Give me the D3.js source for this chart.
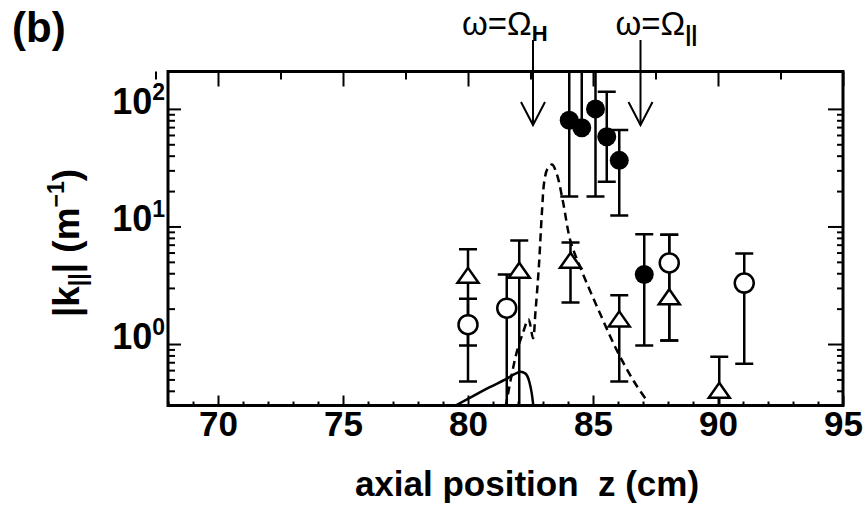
<!DOCTYPE html>
<html>
<head>
<meta charset="utf-8">
<script src="https://cdn.jsdelivr.net/npm/d3@7"></script>
<style>
  body { margin: 0; background: #fff; }
  text { font-family: "Liberation Sans", Arial, sans-serif; fill: #000; }
</style>
</head>
<body>
<svg id="chart" width="868" height="512"></svg>
<script>
const xDomain = [68, 95];
const yDomain = [0.3, 208];
const xMajor = [70, 75, 80, 85, 90, 95];
const yMajor = [1, 10, 100];
const yMajorExp = ['0', '1', '2'];

// [z (cm), |k| (1/m), lower end of error bar, upper end]
const filledPts = [
  [84.05, 80, 18, 400],
  [84.55, 69, 69, 400],
  [85.1, 100, 18, 400],
  [85.55, 58, 24, 140],
  [86.05, 36.5, 12.4, 66],
  [87.05, 3.9, 0.97, 8.6]
];
const openPts = [
  [80.0, 1.46, 0.97, 2.43],
  [81.55, 2.02, 0.2, 3.9],
  [88.05, 4.9, 1.07, 8.5],
  [91.05, 3.3, 0.68, 5.9]
];
const trianglePts = [
  [80.0, 3.8, 0.48, 6.4],
  [82.05, 4.2, 0.2, 7.6],
  [84.1, 5.1, 2.25, 7.3],
  [86.05, 1.62, 0.48, 2.6],
  [88.05, 2.5, 1.07, 8.5],
  [90.05, 0.4, 0.2, 0.78]
];

// dashed and solid model curves
const dashedZ = [81.5, 81.75, 81.96, 82.2, 82.42, 82.6, 82.7, 82.83, 82.96, 83.05, 83.18, 83.36, 83.55, 83.8, 84.1, 84.5, 85.3, 85.97, 86.64, 87.2];
const dashedK = [0.29, 0.55, 0.87, 1.25, 1.62, 1.12, 1.9, 4.4, 13.5, 24, 31, 33.6, 28, 16.2, 7.5, 4.44, 1.78, 0.87, 0.48, 0.32];
const solidZ = [79.5, 80.2, 80.87, 81.5, 81.9, 82.1, 82.3, 82.45, 82.55, 82.62];
const solidK = [0.3, 0.36, 0.43, 0.5, 0.56, 0.58, 0.56, 0.48, 0.38, 0.29];

const resonanceZ = [82.6, 86.9];
const resonanceSub = ['H', '||'];

const svg = d3.select('#chart');
const plotL = 168, plotR = 843, plotT = 71.5, plotB = 405.5;

const x = d3.scaleLinear().domain(xDomain).range([plotL, plotR]);
const y = d3.scaleLog().domain(yDomain).range([plotB, plotT]);

svg.append('defs').append('clipPath').attr('id', 'plot')
  .append('rect')
  .attr('x', plotL).attr('y', plotT)
  .attr('width', plotR - plotL).attr('height', plotB - plotT);

// ---- axes (ticks point inwards) ----
const xMinor = d3.range(68, 96).filter(d => d % 5 !== 0);
const xTopMinor = d3.range(67.5, 95, 5);
const yMinor = [0.3, 0.4, 0.5, 0.6, 0.7, 0.8, 0.9]
  .concat(d3.range(2, 10), d3.range(20, 100, 10));

function strip(g) {
  g.select('.domain').remove();
  g.selectAll('.tick line').attr('stroke', '#000').attr('stroke-width', 2);
}

svg.append('g').attr('transform', `translate(0,${plotB})`)
  .call(d3.axisBottom(x).tickValues(xMajor).tickSize(-10).tickPadding(6))
  .call(strip)
  .call(g => g.selectAll('.tick text')
    .style('font-size', '35px').style('font-weight', 'bold'));
svg.append('g').attr('transform', `translate(0,${plotB})`)
  .call(d3.axisBottom(x).tickValues(xMinor).tickSize(-4).tickFormat(''))
  .call(strip);

svg.append('g').attr('transform', `translate(0,${plotT})`)
  .call(d3.axisTop(x).tickValues(xMajor).tickSize(-15).tickFormat(''))
  .call(strip);
svg.append('g').attr('transform', `translate(0,${plotT})`)
  .call(d3.axisTop(x).tickValues(xTopMinor).tickSize(-8).tickFormat(''))
  .call(strip);

svg.append('g').attr('transform', `translate(${plotL},0)`)
  .call(d3.axisLeft(y).tickValues(yMajor).tickSize(-13).tickPadding(3))
  .call(strip)
  .call(g => g.selectAll('.tick text')
    .attr('dy', '0.42em')
    .style('font-weight', 'bold')
    .text(null)
    .each(function (d, i) {
      const t = d3.select(this);
      t.append('tspan').style('font-size', '36px').text('10');
      t.append('tspan').attr('dy', -14).style('font-size', '23px').text(yMajorExp[i]);
    }));
svg.append('g').attr('transform', `translate(${plotL},0)`)
  .call(d3.axisLeft(y).tickValues(yMinor).tickSize(-7).tickFormat(''))
  .call(strip);

svg.append('g').attr('transform', `translate(${plotR},0)`)
  .call(d3.axisRight(y).tickValues(yMajor).tickSize(-15).tickFormat(''))
  .call(strip);
svg.append('g').attr('transform', `translate(${plotR},0)`)
  .call(d3.axisRight(y).tickValues(yMinor).tickSize(-6).tickFormat(''))
  .call(strip);

// ---- data ----
const plot = svg.append('g').attr('clip-path', 'url(#plot)');

const curve = (zs, ks, type) => d3.line()
  .x((d, i) => x(zs[i]))
  .y(d => y(d))
  .curve(type)(ks);

plot.append('path')
  .attr('d', curve(solidZ, solidK, d3.curveMonotoneX))
  .attr('fill', 'none').attr('stroke', '#000').attr('stroke-width', 2.5);

plot.append('path')
  .attr('d', curve(dashedZ, dashedK, d3.curveCatmullRom))
  .attr('fill', 'none').attr('stroke', '#000').attr('stroke-width', 2.5)
  .attr('stroke-dasharray', '8,5');

const allPts = filledPts.concat(openPts, trianglePts);
const bars = plot.append('g').attr('stroke', '#000').attr('stroke-width', 2.5);

bars.selectAll('line.err').data(allPts).join('line')
  .attr('class', 'err')
  .attr('x1', d => x(d[0])).attr('x2', d => x(d[0]))
  .attr('y1', d => y(d[2])).attr('y2', d => y(d[3]));

const caps = allPts.flatMap(d => [[d[0], d[2]], [d[0], d[3]]]);
bars.selectAll('line.cap').data(caps).join('line')
  .attr('class', 'cap')
  .attr('x1', d => x(d[0]) - 9).attr('x2', d => x(d[0]) + 9)
  .attr('y1', d => y(d[1])).attr('y2', d => y(d[1]));

plot.selectAll('circle.open').data(openPts).join('circle')
  .attr('class', 'open')
  .attr('cx', d => x(d[0])).attr('cy', d => y(d[1])).attr('r', 9.5)
  .attr('fill', '#fff').attr('stroke', '#000').attr('stroke-width', 2.5);

plot.selectAll('path.tri').data(trianglePts).join('path')
  .attr('class', 'tri')
  .attr('transform', d => `translate(${x(d[0])},${y(d[1])})`)
  .attr('d', 'M0,-8L10.5,7L-10.5,7Z')
  .attr('fill', '#fff').attr('stroke', '#000').attr('stroke-width', 2.5)
  .attr('stroke-linejoin', 'miter');

plot.selectAll('circle.filled').data(filledPts).join('circle')
  .attr('class', 'filled')
  .attr('cx', d => x(d[0])).attr('cy', d => y(d[1])).attr('r', 9.5)
  .attr('fill', '#000');

// frame
svg.append('rect')
  .attr('x', plotL).attr('y', plotT)
  .attr('width', plotR - plotL).attr('height', plotB - plotT)
  .attr('fill', 'none').attr('stroke', '#000').attr('stroke-width', 3);

// ---- resonance arrows ----
const labelDx = [-71, -25];
const arrows = svg.append('g').attr('stroke', '#000').attr('stroke-width', 2).attr('fill', 'none');
resonanceZ.forEach((z, i) => {
  const px = x(z);
  arrows.append('line').attr('x1', px).attr('x2', px).attr('y1', 40).attr('y2', 125);
  arrows.append('path').attr('d', `M${px - 12},102L${px},125L${px + 12},102`);
  const t = svg.append('text').attr('x', px + labelDx[i]).attr('y', 35).style('font-size', '33px');
  t.append('tspan').text('ω=Ω');
  t.append('tspan').attr('dy', 6).style('font-size', '22px').style('font-weight', 'bold').text(resonanceSub[i]);
});

// ---- labels ----
svg.append('text').attr('x', 12).attr('y', 42)
  .style('font-size', '42px').style('font-weight', 'bold').text('(b)');

svg.append('text').attr('x', 527).attr('y', 496)
  .attr('text-anchor', 'middle')
  .style('font-size', '35px').style('font-weight', 'bold').style('white-space', 'pre')
  .text('axial position  z (cm)');

const yl = svg.append('text')
  .attr('transform', 'translate(79,243) rotate(-90)')
  .attr('text-anchor', 'middle')
  .style('font-size', '37px').style('font-weight', 'bold');
yl.append('tspan').text('|k');
yl.append('tspan').attr('dy', 7).style('font-size', '23px').text('||');
yl.append('tspan').attr('dy', -7).style('white-space', 'pre').text('| (m');
yl.append('tspan').attr('dy', -15).style('font-size', '23px').text('−1');
yl.append('tspan').attr('dy', 15).text(')');
</script>
</body>
</html>
